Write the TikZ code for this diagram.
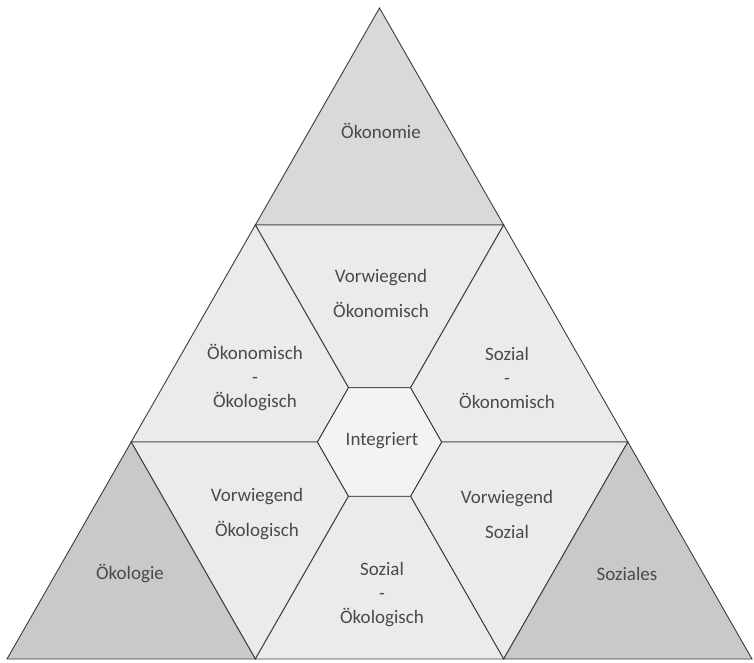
\documentclass[tikz,border=0pt]{standalone}
\usepackage{fontspec}
\setmainfont{Carlito}
\usetikzlibrary{calc}
\definecolor{topfill}{HTML}{D9D9D9}
\definecolor{cornerfill}{HTML}{C9C9C9}
\definecolor{midfill}{HTML}{EBEBEB}
\definecolor{hexfill}{HTML}{F3F3F3}
\definecolor{edge}{HTML}{3C3C3C}
\definecolor{txt}{HTML}{4A4A4A}
\tikzset{
  region/.style={draw=edge, line width=0.9pt, line join=miter},
  lbl/.style={text=txt, align=center, inner sep=0pt, font=\fontsize{19}{24}\selectfont},
}
\begin{document}
\begin{tikzpicture}[x=1pt,y=-1pt]
\useasboundingbox (0,0) rectangle (754,662);
% corners of the big triangle
\coordinate (A) at (379.5,8);
\coordinate (B) at (7,659);
\coordinate (C) at (752,659);
% points on the edges at thirds
\coordinate (AB1) at ($(A)!1/3!(B)$);
\coordinate (AB2) at ($(A)!2/3!(B)$);
\coordinate (AC1) at ($(A)!1/3!(C)$);
\coordinate (AC2) at ($(A)!2/3!(C)$);
\coordinate (BC1) at ($(B)!1/3!(C)$);
\coordinate (BC2) at ($(B)!2/3!(C)$);
\coordinate (O) at ($(AB2)!1/2!(AC2)$);
% hexagon vertices
\coordinate (HL) at ($(O)!1/4!(AB2)$);
\coordinate (HR) at ($(O)!1/4!(AC2)$);
\coordinate (HTL) at ($(O)!1/4!(AB1)$);
\coordinate (HTR) at ($(O)!1/4!(AC1)$);
\coordinate (HBL) at ($(O)!1/4!(BC1)$);
\coordinate (HBR) at ($(O)!1/4!(BC2)$);
% regions
\filldraw[region, fill=topfill] (A) -- (AB1) -- (AC1) -- cycle;
\filldraw[region, fill=midfill] (AB1) -- (AC1) -- (HTR) -- (HTL) -- cycle;
\filldraw[region, fill=midfill] (AB1) -- (HTL) -- (HL) -- (AB2) -- cycle;
\filldraw[region, fill=midfill] (AC1) -- (AC2) -- (HR) -- (HTR) -- cycle;
\filldraw[region, fill=midfill] (AB2) -- (HL) -- (HBL) -- (BC1) -- cycle;
\filldraw[region, fill=midfill] (HR) -- (AC2) -- (BC2) -- (HBR) -- cycle;
\filldraw[region, fill=midfill] (HBL) -- (HBR) -- (BC2) -- (BC1) -- cycle;
\filldraw[region, fill=cornerfill] (AB2) -- (B) -- (BC1) -- cycle;
\filldraw[region, fill=cornerfill] (AC2) -- (BC2) -- (C) -- cycle;
\filldraw[region, fill=hexfill] (HL) -- (HTL) -- (HTR) -- (HR) -- (HBR) -- (HBL) -- cycle;
% labels
\node[lbl] (oekonomie) at (381,131) {Ökonomie};
\node[lbl] (vwoekon) at (381,293) {Vorwiegend\\[11pt]Ökonomisch};
\node[lbl] (oekoekol) at (255,378) {Ökonomisch\\-\\Ökologisch};
\node[lbl] (sozoekon) at (507,378) {Sozial\\-\\Ökonomisch};
\node[lbl] (integriert) at (382,441) {Integriert};
\node[lbl] (vwoekol) at (257,514) {Vorwiegend\\[11pt]Ökologisch};
\node[lbl] (vwsozial) at (507,514) {Vorwiegend\\[11pt]Sozial};
\node[lbl] (sozoekol) at (382,595) {Sozial\\-\\Ökologisch};
\node[lbl] (oekologie) at (130,574) {Ökologie};
\node[lbl] (soziales) at (627,574) {Soziales};
\end{tikzpicture}
\end{document}
